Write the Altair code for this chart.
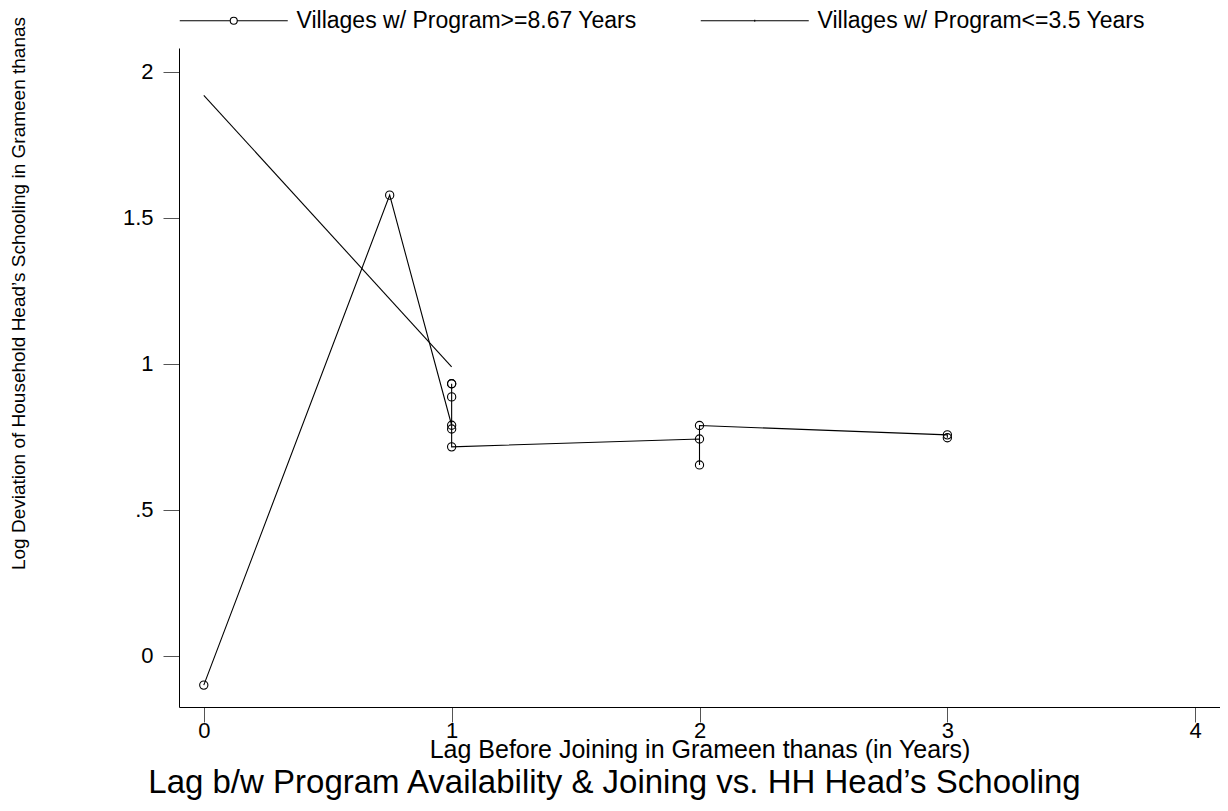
import altair as alt
import pandas as pd

# Series 1: villages with program >= 8.67 years (connected, hollow circles)
lag_long = [0, 0.75, 1, 1, 1, 1, 1, 1, 2, 2, 2, 3, 3]
dev_long = [-0.1, 1.578, 0.79, 0.932, 0.932, 0.887, 0.777, 0.716, 0.743, 0.654, 0.789, 0.757, 0.747]

# Series 2: villages with program <= 3.5 years (line only)
lag_short = [0, 1]
dev_short = [1.92, 0.99]

series_names = ["Villages w/ Program>=8.67 Years", "Villages w/ Program<=3.5 Years"]

y_ticks = [0, 0.5, 1, 1.5, 2]
x_ticks = [0, 1, 2, 3, 4]

df = pd.DataFrame(
    {
        "lag": lag_long + lag_short,
        "dev": dev_long + dev_short,
        "series": [series_names[0]] * len(lag_long) + [series_names[1]] * len(lag_short),
        "idx": list(range(len(lag_long))) + list(range(len(lag_short))),
    }
)

FONT = "Liberation Sans"

x_enc = alt.X(
    "lag:Q",
    scale=alt.Scale(domain=[-0.1, 4.1], nice=False, zero=False),
    axis=alt.Axis(
        values=x_ticks,
        title="Lag Before Joining in Grameen thanas (in Years)",
        titleFontSize=25,
        titleFontWeight="normal",
        titleFont=FONT,
        titleColor="black",
        titleBaseline="middle",
        titleY=42,
        labelFontSize=22,
        labelFont=FONT,
        labelColor="black",
        labelPadding=-2,
        tickSize=15,
        tickColor="#555555",
        domainColor="black",
        grid=False,
    ),
)
y_enc = alt.Y(
    "dev:Q",
    scale=alt.Scale(domain=[-0.175, 2.082], nice=False, zero=False),
    axis=alt.Axis(
        values=y_ticks,
        labelExpr="datum.value == 0 ? '0' : replace(format(datum.value, ''), /^0\\./, '.')",
        title="Log Deviation of Household Head\u2019s Schooling in Grameen thanas",
        titleFontSize=19,
        titleFontWeight="normal",
        titleFont=FONT,
        titleColor="black",
        titleAngle=-90,
        titleBaseline="middle",
        titleX=-161,
        titleY=245,
        labelFontSize=22,
        labelFont=FONT,
        labelColor="black",
        labelPadding=10,
        tickSize=16,
        tickColor="#555555",
        domainColor="black",
        grid=False,
    ),
)

# legend key glyphs: a 108px line (unit = 6.75px) starting at the key's left edge
line_path_circle = (
    "M-1,0L6.48,0M7.52,0L15,0"
    "M6.48,0A0.52,0.52 0 1,0 7.52,0A0.52,0.52 0 1,0 6.48,0"
)
line_path_plain = "M-1,0L15,0M7,-0.15L7,0.15"

lines = (
    alt.Chart(df)
    .mark_line(strokeWidth=1.1, color="black")
    .encode(
        x=x_enc,
        y=y_enc,
        detail="series:N",
        order=alt.Order("idx:Q"),
    )
)

points = (
    alt.Chart(df)
    .transform_filter(alt.datum.series == series_names[0])
    .mark_point(filled=False, stroke="black", strokeWidth=1.1, size=68, opacity=1, shape="circle")
    .encode(x=x_enc, y=y_enc)
)

# legend-only layer (no rows drawn): supplies the key with line+marker symbols
legend_layer = (
    alt.Chart(df)
    .transform_filter(alt.datum.lag < -100)
    .mark_point(filled=False, stroke="black", strokeWidth=1.1)
    .encode(
        x=x_enc,
        y=y_enc,
        shape=alt.Shape(
            "series:N",
            scale=alt.Scale(domain=series_names, range=[line_path_circle, line_path_plain]),
            legend=alt.Legend(
                title=None,
                orient="none",
                legendX=-4,
                legendY=-39,
                direction="horizontal",
                columns=2,
                columnPadding=59,
                labelFontSize=23,
                labelFont=FONT,
                labelColor="black",
                labelOffset=98.5,
                labelLimit=0,
                symbolSize=182.25,
                symbolStrokeWidth=1.1,
                symbolStrokeColor="black",
                symbolFillColor="transparent",
                symbolOpacity=1,
                values=series_names,
            ),
        ),
    )
)

chart = (
    alt.layer(lines, points, legend_layer)
    .properties(
        width=1041,
        height=659,
        padding={"left": 171, "top": 40, "right": 0, "bottom": 96},
        autosize=alt.AutoSizeParams(type="none"),
        background="white",
        title=alt.TitleParams(
            text="Lag b/w Program Availability & Joining vs. HH Head\u2019s Schooling",
            orient="bottom",
            anchor="middle",
            fontSize=33,
            font=FONT,
            fontWeight="normal",
            color="black",
            dx=-85,
            offset=5,
        ),
    )
    .configure_view(stroke=None)
)

chart.save("out.html", embed_options={"renderer": "svg", "actions": False})
